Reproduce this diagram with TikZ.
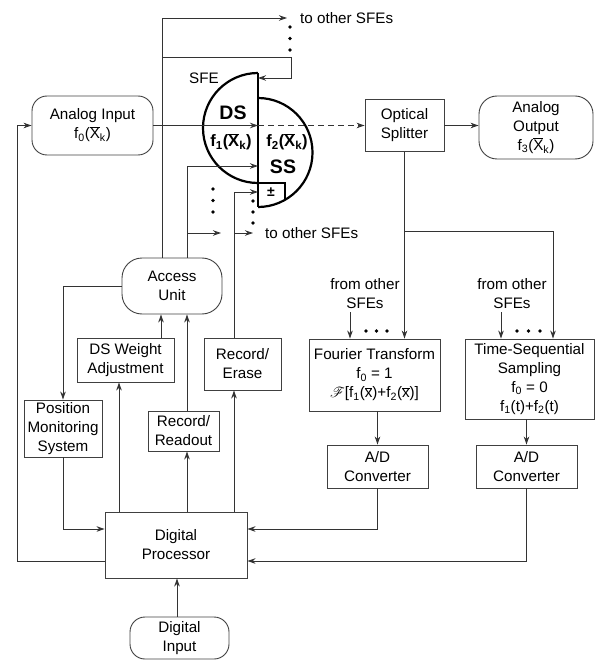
\documentclass[tikz,border=0pt]{standalone}
\usepackage{fontspec}
\setmainfont{Liberation Sans}
\usepackage{mathrsfs}
\usetikzlibrary{arrows.meta}
\newcommand{\xbk}{$\overline{\mbox{X}}$\textsubscript{k}}
\newcommand{\xbr}{$\overline{\mbox{x}}$}
\begin{document}
\begin{tikzpicture}[x=1pt,y=-1pt,
  lbl/.style={font=\fontsize{15.2}{19}\selectfont, align=center, inner sep=0pt},
  box/.style={lbl, draw=black!75, line width=0.9pt},
  rbox/.style={box, rounded corners=15pt},
  wire/.style={draw=black!80, line width=0.9pt},
  arr/.style={wire, -{Stealth[length=8pt,width=5.5pt]}},
  sfe/.style={draw=black, line width=2.2pt},
  big/.style={font=\fontsize{19.5}{22}\selectfont\bfseries, inner sep=0pt},
  fx/.style={font=\fontsize{16.5}{20}\selectfont\bfseries, inner sep=0pt},
  dot/.style={fill=black, draw=none}
]
\useasboundingbox (0,0) rectangle (595,660);

% ---- nodes ----
\node[rbox, minimum width=121pt, minimum height=59pt] (AnalogIn) at (92.5,125.5) {Analog Input\\ f\textsubscript{0}(\xbk)};
\node[box, minimum width=79pt, minimum height=52pt] (Splitter) at (404.5,125.5) {Optical\\ Splitter};
\node[rbox, rounded corners=18pt, minimum width=114pt, minimum height=63pt] (AnalogOut) at (536,127.5) {Analog\\ Output\\ f\textsubscript{3}(\xbk)};
\node[rbox, rounded corners=20pt, minimum width=100pt, minimum height=56pt] (Access) at (172,286) {Access\\ Unit};
\node[box, minimum width=97pt, minimum height=44pt] (DSW) at (125.5,360) {DS Weight\\ Adjustment};
\node[box, minimum width=77pt, minimum height=52pt] (RecErase) at (242.5,364) {Record/\\ Erase};
\node[box, minimum width=78pt, minimum height=57pt] (PMS) at (63,428.5) {Position\\ Monitoring\\ System};
\node[box, minimum width=71pt, minimum height=40pt] (RecRead) at (183.5,431) {Record/\\ Readout};
\node[box, minimum width=142pt, minimum height=66pt] (DP) at (176,545) {Digital\\ Processor};
\node[rbox, minimum width=99pt, minimum height=42pt] (DigIn) at (179.5,638) {Digital\\ Input};
\node[box, minimum width=131pt, minimum height=72pt] (Fourier) at (374.5,375) {Fourier Transform\\ f\textsubscript{0} = 1\\ $\mathscr{F}$[f\textsubscript{1}(\xbr)+f\textsubscript{2}(\xbr)]};
\node[box, minimum width=129pt, minimum height=80pt] (TSS) at (529.5,379) {Time-Sequential\\ Sampling\\ f\textsubscript{0} = 0\\ f\textsubscript{1}(t)+f\textsubscript{2}(t)};
\node[box, minimum width=101pt, minimum height=43pt] (AD1) at (377.5,466.5) {A/D\\ Converter};
\node[box, minimum width=101pt, minimum height=43pt] (AD2) at (526.5,466.5) {A/D\\ Converter};

\node[lbl, anchor=west] (toTop) at (300,18) {to other SFEs};
\node[lbl, anchor=west] (toLow) at (265,233) {to other SFEs};
\node[lbl] (fromF) at (365,294) {from other\\ SFEs};
\node[lbl] (fromT) at (512,294) {from other\\ SFEs};

% ---- SFE ----
\draw[sfe] (258,73) arc[start angle=90, end angle=270, radius=55pt];
\draw[sfe] (258,98) arc[start angle=90, end angle=-90, radius=54.5pt];
\draw[sfe] (258,73) -- (258,207);
\draw[sfe] (258,183) -- (285,183) -- (285,199.8);
\node[lbl] (sfelbl) at (204,78) {SFE};
\node[big] (DS) at (233,113) {DS};
\node[big] (SS) at (283,167) {SS};
\node[fx] (f1) at (231,142) {f\textsubscript{1}(\xbk)};
\node[fx] (f2) at (287,142) {f\textsubscript{2}(\xbk)};
\node[lbl, font=\fontsize{14}{16}\selectfont\bfseries] (pm) at (271,192) {±};

\coordinate (sfeIn) at (258,125.5);
\coordinate (sfeTop) at (258,78);
\coordinate (sfeSS) at (258,166);
\coordinate (sfePM) at (258,192);
\coordinate (toA) at (287,18);
\coordinate (toB) at (221,233);
\coordinate (toC) at (253,233);

% ---- connectors ----
\draw[arr] (AnalogIn.east) -- (sfeIn);
\draw[arr, dash pattern=on 6pt off 4pt] (sfeIn) -- (Splitter.west);
\draw[arr] (Splitter.east) -- (AnalogOut.west |- Splitter.east);

\draw[arr] (Access.north -| 162,0) |- (toA);
\draw[arr] (162,57) -| (291,78) -- (sfeTop);

\draw[arr] (Access.north -| 187,0) |- (sfeSS);
\draw[arr] (187,233) -- (toB);
\draw[arr] (RecErase.north -| 234,0) |- (sfePM);
\draw[arr] (234,233) -- (toC);

\draw[arr] (DSW.north -| 161,0) -- (Access.south -| 161,0);
\draw[arr] (RecRead.north -| 187,0) -- (Access.south -| 187,0);
\draw[arr] (Access.west) -| (PMS.north);

\draw[arr] (DP.north -| 119,0) -- (DSW.south -| 119,0);
\draw[arr] (DP.north -| 187,0) -- (RecRead.south -| 187,0);
\draw[arr] (DP.north -| 234,0) -- (RecErase.south -| 234,0);
\draw[arr] (PMS.south) |- (DP.west |- 0,529);
\draw[arr] (DP.west |- 0,561) -| (17,125.5) -- (AnalogIn.west);
\draw[arr] (DigIn.north -| 177,0) -- (DP.south -| 177,0);

\draw[arr] (Splitter.south) -- (Splitter.south |- Fourier.north);
\draw[arr] (Splitter.south |- 0,231) -| (TSS.north -| 553,0);
\draw[arr] (fromF.south -| 350,0) ++(0,3) -- (Fourier.north -| 350,0);
\draw[arr] (fromT.south -| 501,0) ++(0,3) -- (TSS.north -| 501,0);
\draw[arr] (AD1.north |- Fourier.south) -- (AD1.north);
\draw[arr] (AD2.north |- TSS.south) -- (AD2.north);
\draw[arr] (AD1.south) |- (DP.east |- 0,529);
\draw[arr] (AD2.south) |- (DP.east |- 0,561);

% ---- dots ----
\foreach \y in {27,38.5,50} \fill[dot] (290,\y) circle (1.8pt);
\foreach \y in {189,200.5,212} \fill[dot] (213,\y) circle (1.8pt);
\foreach \y in {201,212,223} \fill[dot] (253,\y) circle (1.8pt);
\foreach \x in {366,376.5,387} \fill[dot] (\x,331) circle (1.8pt);
\foreach \x in {517,528.5,540} \fill[dot] (\x,331) circle (1.8pt);
\end{tikzpicture}
\end{document}
